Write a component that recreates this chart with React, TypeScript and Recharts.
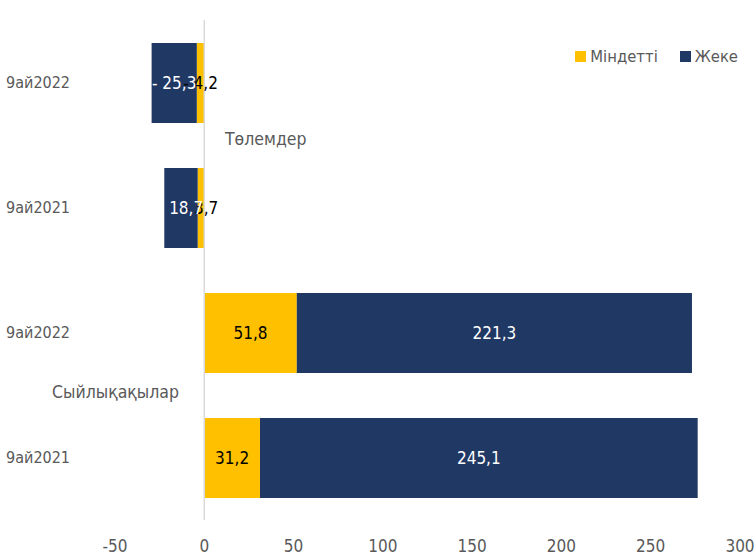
import React from "react";
import { BarChart, Bar, XAxis, YAxis, LabelList, ReferenceLine } from "recharts";

const categories = ["9ай2022", "9ай2021", "9ай2022", "9ай2021"];
const mindetti = [-4.2, -3.7, 51.8, 31.2];
const zheke = [-25.3, -18.7, 221.3, 245.1];
const xTicks = [-50, 0, 50, 100, 150, 200, 250, 300];
const seriesNames = ["Міндетті", "Жеке"];
const seriesColors = ["#FFC000", "#203864"];

const data = categories.map((c, i) => ({ id: i, cat: c, m: mindetti[i], z: zheke[i] }));

const FONT = "'DejaVu Sans Condensed', 'Liberation Sans Narrow', 'DejaVu Sans', sans-serif";
const GREY = "#595959";

const fmt = (v: any) => {
  const n = Number(v);
  const s = Math.abs(n).toFixed(1).replace(".", ",");
  return n < 0 ? "- " + s : s;
};

const makeLabel = (color: string) => (props: any) => {
  const { x, y, width, height, value } = props;
  const cx = Number(x) + Number(width) / 2;
  const cy = Number(y) + Number(height) / 2;
  return (
    <text
      x={cx}
      y={cy}
      textAnchor="middle"
      dominantBaseline="central"
      fill={color}
      fontSize={17}
      style={{ fontFamily: FONT, fontStretch: "condensed" }}
    >
      {fmt(value)}
    </text>
  );
};

const LegendContent = () => (
  <div style={{ display: "flex", alignItems: "center", fontFamily: FONT, fontStretch: "condensed", fontSize: 16.5, color: GREY }}>
    {seriesNames.map((n, i) => (
      <div key={n} style={{ display: "flex", alignItems: "center", marginLeft: i === 0 ? 0 : 22 }}>
        <span style={{ display: "inline-block", width: 11, height: 11, background: seriesColors[i], marginRight: 4 }} />
        <span>{n}</span>
      </div>
    ))}
  </div>
);

export default function App() {
  return (
    <div style={{ position: "absolute", left: 0, top: 0, width: 756, height: 557, fontFamily: FONT, fontStretch: "condensed", background: "#fff" }}>
      <BarChart
        width={756}
        height={557}
        data={data}
        layout="vertical"
        stackOffset="sign"
        barSize={80}
        margin={{ top: 20, right: 16, left: 0, bottom: 0 }}
      >
        <XAxis
          type="number"
          domain={[-50, 300]}
          ticks={xTicks}
          axisLine={false}
          tickLine={false}
          tickSize={0}
          tickMargin={20}
          height={37}
          tick={{ fill: GREY, fontSize: 17, fontFamily: FONT }}
          interval={0}
        />
        <YAxis
          type="category"
          dataKey="id"
          tickFormatter={(v: any) => categories[v]}
          width={115}
          axisLine={false}
          tickLine={false}
          tickSize={0}
          tickMargin={45}
          tick={{ fill: GREY, fontSize: 16, fontFamily: FONT }}
        />
        <ReferenceLine x={0} stroke="#d9d9d9" strokeWidth={1.5} />
        <Bar dataKey="m" name={seriesNames[0]} stackId="a" fill={seriesColors[0]} isAnimationActive={false}>
          <LabelList dataKey="m" content={makeLabel("#000")} />
        </Bar>
        <Bar dataKey="z" name={seriesNames[1]} stackId="a" fill={seriesColors[1]} isAnimationActive={false}>
          <LabelList dataKey="z" content={makeLabel("#fff")} />
        </Bar>
      </BarChart>
      <div style={{ position: "absolute", top: 47, right: 18 }}>
        <LegendContent />
      </div>
      <div style={{ position: "absolute", left: 225, top: 129, fontSize: 17.5, color: GREY, fontFamily: FONT }}>Төлемдер</div>
      <div style={{ position: "absolute", left: 52, top: 382, fontSize: 17.5, color: GREY, fontFamily: FONT }}>Сыйлықақылар</div>
    </div>
  );
}
